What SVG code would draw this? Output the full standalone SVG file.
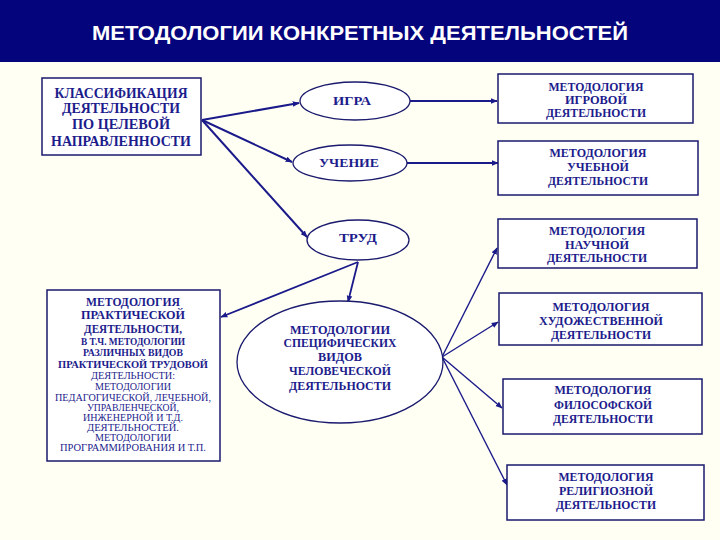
<svg xmlns="http://www.w3.org/2000/svg" width="720" height="540" viewBox="0 0 720 540">
<defs>
<marker id="ah" viewBox="0 0 10 10" refX="9" refY="5" markerWidth="7" markerHeight="7" markerUnits="userSpaceOnUse" orient="auto"><path d="M0,1 L10,5 L0,9 z" fill="#1a1a8a"/></marker>
<style>
.bx{fill:#ffffff;stroke:#1a1a6e;stroke-width:1.5}
.el{fill:#ffffff;stroke:#1a1a6e;stroke-width:1.3}
.t{font-family:"Liberation Serif","DejaVu Serif",serif;font-weight:bold;fill:#1c1c8c;text-anchor:middle;dominant-baseline:central}
.tn{font-family:"Liberation Serif","DejaVu Serif",serif;fill:#1c1c8c;text-anchor:middle;dominant-baseline:central}
.c{stroke:#1a1a8a;fill:none;marker-end:url(#ah)}
</style>
</defs>
<rect x="0" y="0" width="720" height="540" fill="#fffff4"/>
<g id="title">
<rect x="0" y="0" width="720" height="62" fill="#04047c"/>
<text x="360" y="32" font-family="Liberation Sans, Arial, sans-serif" font-weight="bold" font-size="21" fill="#ffffff" text-anchor="middle" dominant-baseline="central" textLength="536" lengthAdjust="spacingAndGlyphs">МЕТОДОЛОГИИ КОНКРЕТНЫХ ДЕЯТЕЛЬНОСТЕЙ</text>
</g>
<g id="connectors">
<line class="c" x1="202" y1="120" x2="299" y2="103" stroke-width="2"/>
<line class="c" x1="202" y1="120" x2="292" y2="162" stroke-width="2"/>
<line class="c" x1="202" y1="120" x2="307" y2="237" stroke-width="2"/>
<line class="c" x1="410" y1="101" x2="497" y2="101" stroke-width="1.8"/>
<line class="c" x1="407" y1="163" x2="498" y2="163" stroke-width="1.8"/>
<line class="c" x1="358" y1="262" x2="348" y2="302" stroke-width="1.8"/>
<line class="c" x1="358" y1="262" x2="221" y2="317" stroke-width="1.8"/>
<line class="c" x1="442" y1="357" x2="497" y2="248" stroke-width="1.4"/>
<line class="c" x1="442" y1="357" x2="498" y2="322" stroke-width="1.4"/>
<line class="c" x1="442" y1="357" x2="502" y2="408" stroke-width="1.4"/>
<line class="c" x1="442" y1="357" x2="507" y2="485" stroke-width="1.4"/>
</g>
<g id="classification">
<rect class="bx" x="42" y="78" width="159" height="77"/>
<text class="t" font-size="14" x="121" y="93" textLength="133" lengthAdjust="spacingAndGlyphs">КЛАССИФИКАЦИЯ</text>
<text class="t" font-size="14" x="121" y="108" textLength="118" lengthAdjust="spacingAndGlyphs">ДЕЯТЕЛЬНОСТИ</text>
<text class="t" font-size="14" x="121" y="124" textLength="98" lengthAdjust="spacingAndGlyphs">ПО ЦЕЛЕВОЙ</text>
<text class="t" font-size="14" x="121" y="141" textLength="140" lengthAdjust="spacingAndGlyphs">НАПРАВЛЕННОСТИ</text>
</g>
<g id="igra">
<ellipse class="el" cx="355" cy="101" rx="55" ry="19"/>
<text class="t" font-size="12" x="352" y="101" textLength="38" lengthAdjust="spacingAndGlyphs">ИГРА</text>
</g>
<g id="uchenie">
<ellipse class="el" cx="350" cy="163" rx="57" ry="18"/>
<text class="t" font-size="12" x="349" y="163" textLength="60" lengthAdjust="spacingAndGlyphs">УЧЕНИЕ</text>
</g>
<g id="trud">
<ellipse class="el" cx="358" cy="240" rx="51" ry="20"/>
<text class="t" font-size="12" x="358" y="238" textLength="38" lengthAdjust="spacingAndGlyphs">ТРУД</text>
</g>
<g id="igrovoy">
<rect class="bx" x="498" y="74" width="195" height="49"/>
<text class="t" font-size="11.5" x="596" y="87" textLength="95" lengthAdjust="spacingAndGlyphs">МЕТОДОЛОГИЯ</text>
<text class="t" font-size="11.5" x="596" y="100" textLength="62" lengthAdjust="spacingAndGlyphs">ИГРОВОЙ</text>
<text class="t" font-size="11.5" x="596" y="113" textLength="100" lengthAdjust="spacingAndGlyphs">ДЕЯТЕЛЬНОСТИ</text>
</g>
<g id="uchebnoy">
<rect class="bx" x="498" y="141" width="200" height="54"/>
<text class="t" font-size="11.5" x="598" y="153" textLength="97" lengthAdjust="spacingAndGlyphs">МЕТОДОЛОГИЯ</text>
<text class="t" font-size="11.5" x="598" y="167" textLength="62" lengthAdjust="spacingAndGlyphs">УЧЕБНОЙ</text>
<text class="t" font-size="11.5" x="598" y="181" textLength="100" lengthAdjust="spacingAndGlyphs">ДЕЯТЕЛЬНОСТИ</text>
</g>
<g id="nauchnoy">
<rect class="bx" x="498" y="219" width="199" height="49"/>
<text class="t" font-size="11.5" x="597" y="231" textLength="96" lengthAdjust="spacingAndGlyphs">МЕТОДОЛОГИЯ</text>
<text class="t" font-size="11.5" x="597" y="245" textLength="64" lengthAdjust="spacingAndGlyphs">НАУЧНОЙ</text>
<text class="t" font-size="11.5" x="597" y="258" textLength="100" lengthAdjust="spacingAndGlyphs">ДЕЯТЕЛЬНОСТИ</text>
</g>
<g id="hudozh">
<rect class="bx" x="499" y="293" width="203" height="52"/>
<text class="t" font-size="11.5" x="601" y="307" textLength="97" lengthAdjust="spacingAndGlyphs">МЕТОДОЛОГИЯ</text>
<text class="t" font-size="11.5" x="601" y="321" textLength="124" lengthAdjust="spacingAndGlyphs">ХУДОЖЕСТВЕННОЙ</text>
<text class="t" font-size="11.5" x="601" y="335" textLength="100" lengthAdjust="spacingAndGlyphs">ДЕЯТЕЛЬНОСТИ</text>
</g>
<g id="filosof">
<rect class="bx" x="503" y="379" width="199" height="55"/>
<text class="t" font-size="11.5" x="603" y="390" textLength="97" lengthAdjust="spacingAndGlyphs">МЕТОДОЛОГИЯ</text>
<text class="t" font-size="11.5" x="603" y="405" textLength="98" lengthAdjust="spacingAndGlyphs">ФИЛОСОФСКОЙ</text>
<text class="t" font-size="11.5" x="603" y="419" textLength="100" lengthAdjust="spacingAndGlyphs">ДЕЯТЕЛЬНОСТИ</text>
</g>
<g id="religioz">
<rect class="bx" x="507" y="465" width="197" height="55"/>
<text class="t" font-size="11.5" x="606" y="477" textLength="95" lengthAdjust="spacingAndGlyphs">МЕТОДОЛОГИЯ</text>
<text class="t" font-size="11.5" x="606" y="491" textLength="94" lengthAdjust="spacingAndGlyphs">РЕЛИГИОЗНОЙ</text>
<text class="t" font-size="11.5" x="606" y="505" textLength="100" lengthAdjust="spacingAndGlyphs">ДЕЯТЕЛЬНОСТИ</text>
</g>
<g id="specific">
<ellipse class="el" cx="340" cy="362" rx="103" ry="61"/>
<text class="t" font-size="12.5" x="340" y="330" textLength="100" lengthAdjust="spacingAndGlyphs">МЕТОДОЛОГИИ</text>
<text class="t" font-size="12.5" x="340" y="343" textLength="113" lengthAdjust="spacingAndGlyphs">СПЕЦИФИЧЕСКИХ</text>
<text class="t" font-size="12.5" x="340" y="357" textLength="44" lengthAdjust="spacingAndGlyphs">ВИДОВ</text>
<text class="t" font-size="12.5" x="340" y="371" textLength="102" lengthAdjust="spacingAndGlyphs">ЧЕЛОВЕЧЕСКОЙ</text>
<text class="t" font-size="12.5" x="340" y="386" textLength="102" lengthAdjust="spacingAndGlyphs">ДЕЯТЕЛЬНОСТИ</text>
</g>
<g id="practical">
<rect class="bx" x="47" y="290" width="173" height="171"/>
<text class="t" font-size="12" x="133" y="302" textLength="94" lengthAdjust="spacingAndGlyphs">МЕТОДОЛОГИЯ</text>
<text class="t" font-size="12" x="133" y="315" textLength="104" lengthAdjust="spacingAndGlyphs">ПРАКТИЧЕСКОЙ</text>
<text class="t" font-size="12" x="133" y="329" textLength="98" lengthAdjust="spacingAndGlyphs">ДЕЯТЕЛЬНОСТИ,</text>
<text class="t" font-size="10.5" x="133" y="341" textLength="104" lengthAdjust="spacingAndGlyphs">В Т.Ч. МЕТОДОЛОГИИ</text>
<text class="t" font-size="10" x="133" y="352" textLength="100" lengthAdjust="spacingAndGlyphs">РАЗЛИЧНЫХ ВИДОВ</text>
<text class="t" font-size="10" x="133" y="364" textLength="150" lengthAdjust="spacingAndGlyphs">ПРАКТИЧЕСКОЙ ТРУДОВОЙ</text>
<text class="tn" font-size="9.5" x="133" y="376" textLength="84" lengthAdjust="spacingAndGlyphs">ДЕЯТЕЛЬНОСТИ:</text>
<text class="tn" font-size="9.5" x="133" y="387" textLength="76" lengthAdjust="spacingAndGlyphs">МЕТОДОЛОГИИ</text>
<text class="tn" font-size="9.5" x="133" y="398" textLength="156" lengthAdjust="spacingAndGlyphs">ПЕДАГОГИЧЕСКОЙ, ЛЕЧЕБНОЙ,</text>
<text class="tn" font-size="9.5" x="133" y="408" textLength="92" lengthAdjust="spacingAndGlyphs">УПРАВЛЕНЧЕСКОЙ,</text>
<text class="tn" font-size="9.5" x="133" y="418" textLength="100" lengthAdjust="spacingAndGlyphs">ИНЖЕНЕРНОЙ И Т.Д.</text>
<text class="tn" font-size="9.5" x="133" y="428" textLength="92" lengthAdjust="spacingAndGlyphs">ДЕЯТЕЛЬНОСТЕЙ.</text>
<text class="tn" font-size="9.5" x="133" y="438" textLength="76" lengthAdjust="spacingAndGlyphs">МЕТОДОЛОГИИ</text>
<text class="tn" font-size="9.5" x="133" y="448" textLength="146" lengthAdjust="spacingAndGlyphs">ПРОГРАММИРОВАНИЯ И Т.П.</text>
</g>
</svg>
